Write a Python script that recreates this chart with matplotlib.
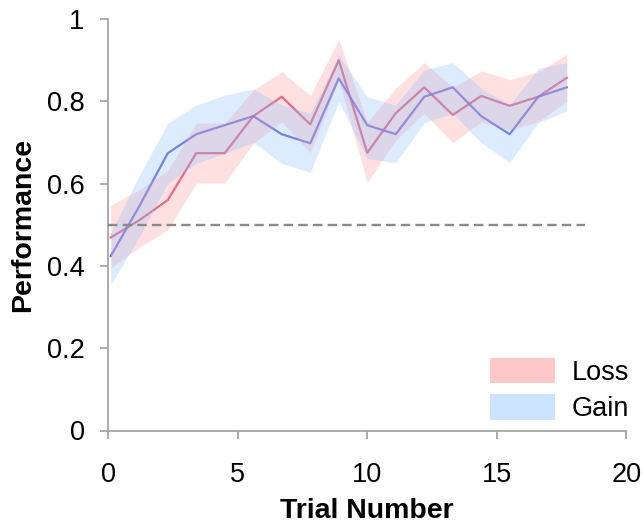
import matplotlib
matplotlib.use("Agg")
import matplotlib.pyplot as plt
from matplotlib.patches import Patch

plt.rcParams['font.family'] = ['Liberation Sans', 'DejaVu Sans']

# Trial positions of each binned point
trial = [0.1, 1.2, 2.3, 3.4, 4.5, 5.6, 6.7, 7.8, 8.9, 10.0,
         11.1, 12.2, 13.3, 14.4, 15.5, 16.6, 17.7]

# Loss condition: mean and confidence band
loss_mean = [0.469, 0.511, 0.560, 0.674, 0.674, 0.764, 0.811, 0.744, 0.900, 0.675,
             0.771, 0.834, 0.767, 0.813, 0.789, 0.811, 0.857]
loss_lo = [0.395, 0.445, 0.487, 0.601, 0.601, 0.698, 0.750, 0.675, 0.852, 0.602,
           0.706, 0.771, 0.699, 0.750, 0.730, 0.750, 0.800]
loss_hi = [0.548, 0.585, 0.633, 0.747, 0.747, 0.827, 0.872, 0.814, 0.951, 0.750,
           0.832, 0.894, 0.834, 0.874, 0.853, 0.872, 0.914]

# Gain condition: mean and confidence band
gain_mean = [0.424, 0.545, 0.674, 0.720, 0.742, 0.764, 0.720, 0.698, 0.856, 0.742,
             0.720, 0.811, 0.834, 0.764, 0.720, 0.811, 0.834]
gain_lo = [0.355, 0.470, 0.601, 0.649, 0.674, 0.700, 0.649, 0.627, 0.799, 0.661,
           0.651, 0.748, 0.771, 0.699, 0.651, 0.748, 0.776]
gain_hi = [0.480, 0.620, 0.747, 0.791, 0.815, 0.830, 0.791, 0.771, 0.912, 0.811,
           0.791, 0.876, 0.894, 0.832, 0.791, 0.880, 0.894]

chance = 0.5
xticks = [0, 5, 10, 15, 20]
yticks = [0, 0.2, 0.4, 0.6, 0.8, 1.0]
ytick_labels = ["0", "0.2", "0.4", "0.6", "0.8", "1"]

fig = plt.figure(figsize=(6.44, 5.25), dpi=100)
ax = fig.add_axes([0.168, 0.18, 0.8045, 0.7838])

loss_line_c = '#d23c6c'
gain_line_c = '#4f4fd6'

ax.plot(trial, loss_mean, color=loss_line_c, lw=1.6, alpha=0.85, zorder=2)
ax.plot(trial, gain_mean, color=gain_line_c, lw=1.6, alpha=0.85, zorder=2)

ax.fill_between(trial, loss_lo, loss_hi, color='#ff9a9a', alpha=0.3, lw=0, zorder=3)
ax.fill_between(trial, gain_lo, gain_hi, color='#8fc0ff', alpha=0.3, lw=0, zorder=3)

ax.plot([0, 18.4], [chance, chance], color='#8a8a8a', lw=1.7,
        linestyle=(0, (4, 2.2)), zorder=4)

ax.set_xlim(0, 20)
ax.set_ylim(0, 1)
ax.set_xticks(xticks)
ax.set_yticks(yticks)
ax.set_yticklabels(ytick_labels)

for side in ('top', 'right'):
    ax.spines[side].set_visible(False)
for side in ('left', 'bottom'):
    ax.spines[side].set_color('#a6a6a6')
    ax.spines[side].set_linewidth(1.3)

ax.tick_params(axis='both', colors='#a6a6a6', length=6, width=1.3,
               labelsize=19.5, labelcolor='black')
ax.tick_params(axis='x', pad=17)
ax.tick_params(axis='y', pad=11)

ax.set_xlabel('Trial Number', fontsize=20.5, fontweight='bold')
ax.set_ylabel('Performance', fontsize=20.5, fontweight='bold')
ax.xaxis.set_label_coords(0.5, -0.165)
ax.yaxis.set_label_coords(-0.14, 0.5)

handles = [Patch(facecolor='#ffc8c8', edgecolor='none', label='Loss'),
           Patch(facecolor='#cce4ff', edgecolor='none', label='Gain')]
ax.legend(handles=handles, loc='lower right', bbox_to_anchor=(1.005, 0.02),
          frameon=False, fontsize=19.5, handlelength=2.42, handleheight=1.05,
          handletextpad=0.6, labelspacing=0.32, borderpad=0, borderaxespad=0)

fig.savefig('out.png', dpi=100)
